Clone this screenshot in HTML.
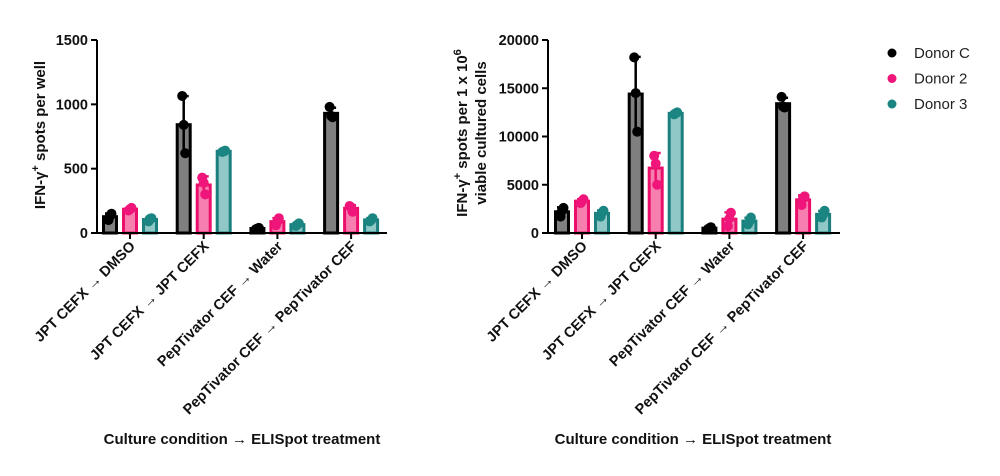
<!DOCTYPE html>
<html><head><meta charset="utf-8"><style>
body{margin:0;background:#fff;}
svg{display:block;font-family:"Liberation Sans",Arial,sans-serif;}
</style></head><body>
<svg id="c" width="1000" height="476" viewBox="0 0 1000 476"></svg>
<script>
const categories=["JPT CEFX \u2192 DMSO","JPT CEFX \u2192 JPT CEFX","PepTivator CEF \u2192 Water","PepTivator CEF \u2192 PepTivator CEF"];
const donors=["Donor C","Donor 2","Donor 3"];
const leftTicks=[0,500,1000,1500];
const rightTicks=[0,5000,10000,15000,20000];
const leftDonorC=[[100,130,150],[1065,840,620],[30,35,40],[980,910,900]];
const leftDonor2=[[175,185,195],[430,390,300],[60,90,115],[210,200,165]];
const leftDonor3=[[90,110,115],[630,635,640],[55,65,75],[90,100,115]];
const rightDonorC=[[1700,2300,2600],[18200,14500,10500],[400,500,600],[14100,13100,13000]];
const rightDonor2=[[3100,3300,3500],[8000,7200,5000],[700,1500,2100],[2900,3600,3800]];
const rightDonor3=[[1700,2100,2300],[12300,12400,12500],[900,1200,1600],[1600,1900,2300]];

const NS="http://www.w3.org/2000/svg";
const svg=document.getElementById('c');
function el(t,a,p){const e=document.createElementNS(NS,t);for(const k in a)e.setAttribute(k,a[k]);(p||svg).appendChild(e);return e;}
const fills=["#7f7f7f","#f77fb0","#8fc8c6"];
const strokes=["#000","#ea0f6b","#1b7f7e"];
const dots=["#000","#f0157a","#1b8582"];

function chart(cfg){
  const g=el('g',{});
  
  
  const y=v=>cfg.y0-(v/cfg.max)*(cfg.y0-cfg.y1);
  const x=i=>cfg.x0+cfg.gap*i+cfg.first;
  const ya=el('line',{x1:cfg.x0,y1:cfg.y1,x2:cfg.x0,y2:cfg.y0,stroke:'#000','stroke-width':2},g);
  
  cfg.ticks.forEach(t=>{
    el('line',{x1:cfg.x0-6,x2:cfg.x0,y1:y(t),y2:y(t),stroke:'#000','stroke-width':2},g);
    const tx=el('text',{x:cfg.x0-9,y:y(t)+5,'text-anchor':'end','font-size':14.5,'font-weight':'bold',fill:'#111'},g);
    tx.textContent=t;
    
  });
  cfg.series.forEach((ser,s)=>{
    ser.forEach((pts,i)=>{
      const m=pts.reduce((a,b)=>a+b,0)/pts.length;
      const sd=Math.sqrt(pts.reduce((a,b)=>a+(b-m)*(b-m),0)/(pts.length-1));
      const cx=x(i)+(s-1)*cfg.off;
      const r=el('rect',{x:cx-cfg.bw/2,y:y(m),width:cfg.bw,height:cfg.y0-y(m),fill:fills[s],stroke:strokes[s],'stroke-width':3},g);
      
      
      el('line',{x1:cx,x2:cx,y1:y(m+sd),y2:y(Math.max(0,m-sd)),stroke:strokes[s],'stroke-width':2.5},g);
      el('line',{x1:cx-5,x2:cx+5,y1:y(m+sd),y2:y(m+sd),stroke:strokes[s],'stroke-width':2.5},g);
      pts.forEach((p,k)=>{
        const d=el('circle',{cx:cx+(k-1)*1.5,cy:y(p),r:5,fill:dots[s]},g);
        
      });
    });
  });
  const xa=el('line',{x1:cfg.x0,y1:cfg.y0,x2:cfg.xe,y2:cfg.y0,stroke:'#000','stroke-width':2},g);
  
  categories.forEach((c,i)=>{
    el('line',{x1:x(i),x2:x(i),y1:cfg.y0,y2:cfg.y0+6,stroke:'#000','stroke-width':2},g);
    const t=el('text',{transform:`translate(${x(i)+6},${cfg.y0+14}) rotate(-45)`,'text-anchor':'end','font-size':14.5,'font-weight':'bold',fill:'#111'},g);
    t.textContent=c;
    
  });
  const xt=el('text',{x:cfg.xtitle,y:444,'text-anchor':'middle','font-size':15,'font-weight':'bold',fill:'#111'},g);
  xt.textContent="Culture condition \u2192 ELISpot treatment";
  
  return g;
}
chart({name:'left-chart',x0:97,xe:387,y0:233,y1:40,max:1500,gap:73.7,first:33,off:20,bw:13,ticks:leftTicks,
  series:[leftDonorC,leftDonor2,leftDonor3],xtitle:242});
chart({name:'right-chart',x0:548,xe:840,y0:233,y1:40,max:20000,gap:73.7,first:34,off:20,bw:13,ticks:rightTicks,
  series:[rightDonorC,rightDonor2,rightDonor3],xtitle:693});

let t=el('text',{transform:'translate(45,135) rotate(-90)','text-anchor':'middle','font-size':15,'font-weight':'bold',fill:'#111'});
t.innerHTML='IFN-\u03b3<tspan dy="-6" font-size="11">+</tspan><tspan dy="6"> spots per well</tspan>';

t=el('text',{transform:'translate(467,133) rotate(-90)','text-anchor':'middle','font-size':15,'font-weight':'bold',fill:'#111'});
t.innerHTML='IFN-\u03b3<tspan dy="-6" font-size="11">+</tspan><tspan dy="6"> spots per 1 x 10</tspan><tspan dy="-6" font-size="11">6</tspan>';

t=el('text',{transform:'translate(486,133) rotate(-90)','text-anchor':'middle','font-size':15,'font-weight':'bold',fill:'#111'});
t.textContent='viable cultured cells';


donors.forEach((d,i)=>{
  const g=el('g',{});
  
  
  el('circle',{cx:892,cy:53+i*25.5,r:4.5,fill:dots[i]},g);
  const tx=el('text',{x:914,y:58+i*25.5,'font-size':15,fill:'#222'},g);
  tx.textContent=d;
});
</script>
</body></html>
